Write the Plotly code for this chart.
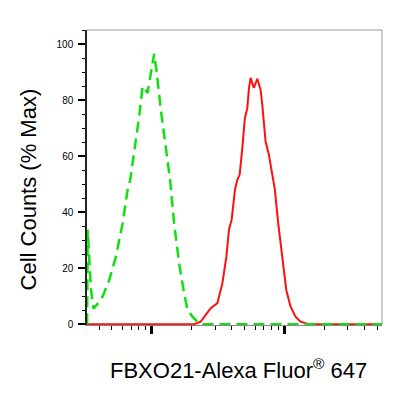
import plotly.graph_objects as go

# Isotype control (green dashed)
ctrl_x = [325, 328.6, 347.8, 363.2, 401.6, 425.9, 477.5, 536.2, 602.3, 656.8, 686.9, 716.0,
          758.1, 802.7, 851.3, 928.3, 1040.6, 1090.4, 1168.6, 1237.3, 1312.2, 1372.7, 1471.5,
          1604.6, 1749.6, 1855.4, 2023, 2206, 2474, 5000, 20000, 54300]
ctrl_y = [0, 33.7, 12.3, 5.5, 8.0, 9.9, 15.8, 24.1, 36.0, 48.0, 51.5, 57.5,
          65.8, 74.1, 84.9, 82.5, 96.5, 89.6, 76.5, 67.0, 57.5, 51.5, 36.0,
          21.8, 11.1, 5.1, 2.7, 0.9, 0, 0, 0, 0]

# FBXO21 stained (red solid)
stain_x = [325, 1000, 2080, 2336, 2547, 2777, 3119, 3401, 3646, 3813, 3996, 4230, 4410, 4589,
           4808, 5028, 5242, 5390, 5551, 5877, 6231, 6600, 6799, 6988, 7197, 7621, 8083,
           8456, 8965, 9330, 9710, 10299, 11094, 12096, 13192, 15228, 30000, 54300]
stain_y = [0, 0, 0, 0.9, 3.3, 5.7, 7.5, 14.6, 24.1, 33.7, 37.3, 48.0, 51.5, 53.3,
           62.9, 73.6, 77.1, 84.0, 87.9, 84.3, 87.6, 83.7, 78.3, 71.2, 65.2, 60.5, 53.3,
           48.0, 36.0, 28.9, 21.8, 12.3, 6.3, 2.7, 0.9, 0, 0, 0]

y_ticks = [0, 20, 40, 60, 80, 100]
y_minor = [5, 10, 15, 25, 30, 35, 45, 50, 55, 65, 70, 75, 85, 90, 95, 105]
x_major = [1000, 10000]
x_minor = [400, 500, 600, 700, 800, 900,
           2000, 3000, 4000, 5000, 6000, 7000, 8000, 9000,
           20000, 30000, 40000, 50000]

x_title = "FBXO21-Alexa Fluor<sup>®</sup> 647"
y_title = "Cell Counts (% Max)"

FONT = "Liberation Sans, Arial, sans-serif"

fig = go.Figure()
fig.add_trace(go.Scatter(x=stain_x, y=stain_y, mode="lines",
                         line=dict(color="#ff1010", width=2), hoverinfo="skip"))
fig.add_trace(go.Scatter(x=ctrl_x, y=ctrl_y, mode="lines",
                         line=dict(color="#10e010", width=2.5, dash="11px,6px"), hoverinfo="skip"))

fig.update_layout(
    width=409, height=389,
    margin=dict(l=79, r=35, t=22, b=72),
    paper_bgcolor="white", plot_bgcolor="white",
    showlegend=False,
    font=dict(family=FONT, color="black"),
    xaxis=dict(type="log", range=[2.5113, 4.7346], showgrid=False, zeroline=False,
               showline=True, linecolor="#888888", linewidth=1,
               tickmode="array", tickvals=x_major, ticktext=["", ""],
               ticks="outside", ticklen=8, tickwidth=2.5, tickcolor="black",
               minor=dict(tickmode="array", tickvals=x_minor, ticks="outside",
                          ticklen=4, tickwidth=1, tickcolor="black")),
    yaxis=dict(range=[-0.3, 105], showgrid=False, zeroline=False,
               showline=True, linecolor="#222222", linewidth=1.5,
               tickmode="array", tickvals=y_ticks,
               ticks="outside", ticklen=7, tickwidth=2, tickcolor="black",
               tickfont=dict(size=10, family=FONT),
               ticklabelstandoff=3,
               minor=dict(tickmode="array", tickvals=y_minor, ticks="outside",
                          ticklen=3, tickwidth=1, tickcolor="black")),
    shapes=[
        dict(type="line", xref="paper", yref="paper", x0=0, x1=1, y0=1, y1=1,
             line=dict(color="#999999", width=1)),
        dict(type="line", xref="paper", yref="paper", x0=1, x1=1, y0=0, y1=1,
             line=dict(color="#999999", width=1)),
    ],
    annotations=[
        dict(text=x_title, xref="paper", yref="paper", x=0.515, y=-0.149,
             xanchor="center", yanchor="middle", showarrow=False,
             font=dict(size=22, family=FONT)),
        dict(text=y_title, xref="paper", yref="paper", x=-0.197, y=0.459,
             xanchor="center", yanchor="middle", showarrow=False, textangle=-90,
             font=dict(size=22, family=FONT)),
    ],
)

fig.write_html("out.html")
